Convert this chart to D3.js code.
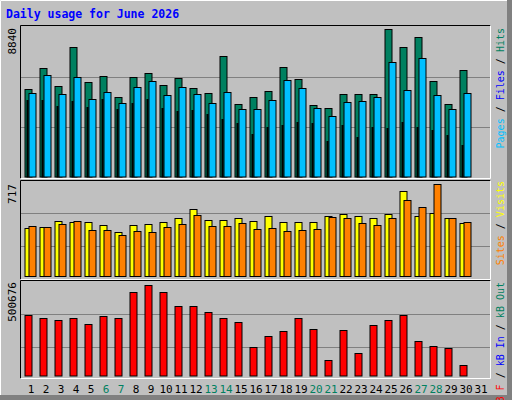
<!DOCTYPE html><html><head><meta charset="utf-8">
<script src="https://cdn.jsdelivr.net/npm/d3@7"></script>
<style>body{margin:0;background:#fff}svg{display:block}text{font-family:"DejaVu Sans Mono",monospace}</style>
</head><body><svg id="c" width="512" height="400"></svg><script>
const days=d3.range(1,32);
const weekend=[6,7,13,14,20,21,27,28];
const hits=[5139,6376,5316,7614,5551,5905,4667,5846,6082,5374,5787,5198,4903,7083,4255,4667,5021,6435,5728,4196,4019,4844,4844,4844,8674,7614,8203,5610,4255,6258];
const files=[4903,5964,4844,5846,4549,4962,4314,5257,5610,4785,5257,4844,4314,4962,3960,3960,4490,5669,5198,4019,3548,4373,4432,4667,6730,5080,6966,4785,3960,4903];
const pages=[4490,4490,4137,4432,4078,4549,3960,4314,4549,4019,3842,3901,3665,3371,3135,2487,2899,3017,3194,3135,2074,3017,2310,2899,2840,3194,2899,2723,2428,1839];
const visits=[374,382,429,421,421,397,343,397,405,421,452,522,436,436,452,429,468,421,421,421,468,483,468,452,483,662,468,491,452,413];
const sites=[390,382,405,429,359,359,320,351,343,382,405,475,390,390,413,366,374,351,359,366,460,452,413,397,452,592,538,717,452,421];
const kbF=[328400,312200,296100,312200,274600,323000,312200,452200,489900,452200,371500,376800,344500,312200,290700,156100,215300,236900,306900,253000,86100,242300,123800,269200,296100,328400,188400,161500,150700,59200];
const maxHits=8840,maxVisits=717,maxKB=500676;

const svg=d3.select("#c");
svg.append("rect").attr("width",512).attr("height",400).attr("fill","#C0C0C0");
svg.append("path").attr("d","M0.5,399.5V0.5H511.5").attr("stroke","#fff").attr("fill","none");
svg.append("rect").attr("x",507).attr("y",0).attr("width",5).attr("height",400).attr("fill","#808080");
svg.append("rect").attr("x",0).attr("y",395).attr("width",512).attr("height",5).attr("fill","#808080");
svg.append("text").attr("x",6).attr("y",18).attr("fill","#0000FF").attr("font-weight","bold").attr("font-size",11.5).text("Daily usage for June 2026");

const x=d3.scaleBand().domain(days).range([22.5,487.5]).paddingInner(0).paddingOuter(0);
function panel(y0,y1){
  svg.append("rect").attr("x",20.5).attr("y",y0+.5).attr("width",470).attr("height",y1-y0).attr("fill","#C0C0C0").attr("stroke","none");
  svg.append("path").attr("d",`M20.5,${y1+.5}V${y0+.5}H490.5`).attr("stroke","#000").attr("fill","none");
  svg.append("path").attr("d",`M20.5,${y1+.5}H490.5V${y0+.5}`).attr("stroke","#fff").attr("fill","none");
}
function grid(top,bot){[1/3,2/3].forEach(f=>{const gy=Math.round(bot-(bot-top)*f)+.5;
  svg.append("line").attr("x1",21).attr("x2",490).attr("y1",gy).attr("y2",gy).attr("stroke","#808080");});}
function bars(data,scale,dx,w,color){
  svg.append("g").selectAll("rect").data(data).join("rect")
   .attr("x",(d,i)=>x(i+1)+dx+.5).attr("y",d=>Math.round(scale(d))+.5)
   .attr("width",w).attr("height",d=>scale(0)-Math.round(scale(d)))
   .attr("fill",color).attr("stroke","#000");
}
panel(25,178);
const yT=d3.scaleLinear().domain([0,maxHits]).range([176.5,26.5]);
grid(26.5,176.5);
bars(hits,yT,2,7,"#008060");
bars(files,yT,6,7,"#00C0FF");
bars(pages,yT,4,1,"#0000FF");
panel(180,279);
const yM=d3.scaleLinear().domain([0,maxVisits]).range([276,184]);
grid(180,279.5);
bars(visits,yM,2,7,"#FFFF00");
bars(sites,yM,6,7,"#FF8000");
panel(280,378);
const yB=d3.scaleLinear().domain([0,maxKB]).range([375.5,282.5]);
grid(280.5,379.5);
bars(kbF,yB,2,7,"#FF0000");

[[maxHits,28],[maxVisits,184],[maxKB,282]].forEach(([v,yy])=>{
  svg.append("text").attr("transform",`translate(16,${yy}) rotate(-90)`).attr("text-anchor","end").attr("font-size",11).attr("fill","#000").text(v);
});
function sideLabel(yy,parts){
  const t=svg.append("text").attr("transform",`translate(504,${yy}) rotate(-90)`).attr("text-anchor","end").attr("font-size",10);
  parts.forEach(([s,c])=>t.append("tspan").attr("fill",c).text(s));
}
sideLabel(28,[["Pages","#00C0FF"],[" / ","#000"],["Files","#0000FF"],[" / ","#000"],["Hits","#008060"]]);
sideLabel(181,[["Sites","#FF8000"],[" / ","#000"],["Visits","#FFFF00"]]);
sideLabel(282,[["kB F","#FF0000"],[" / ","#000"],["kB In","#0000FF"],[" / ","#000"],["kB Out","#008060"]]);
svg.append("g").selectAll("text").data(days).join("text")
 .attr("x",d=>x(d)+x.bandwidth()/2+1).attr("y",393).attr("text-anchor","middle").attr("font-size",11)
 .attr("fill",d=>weekend.includes(d)?"#008060":"#000").text(d=>d);
</script></body></html>
